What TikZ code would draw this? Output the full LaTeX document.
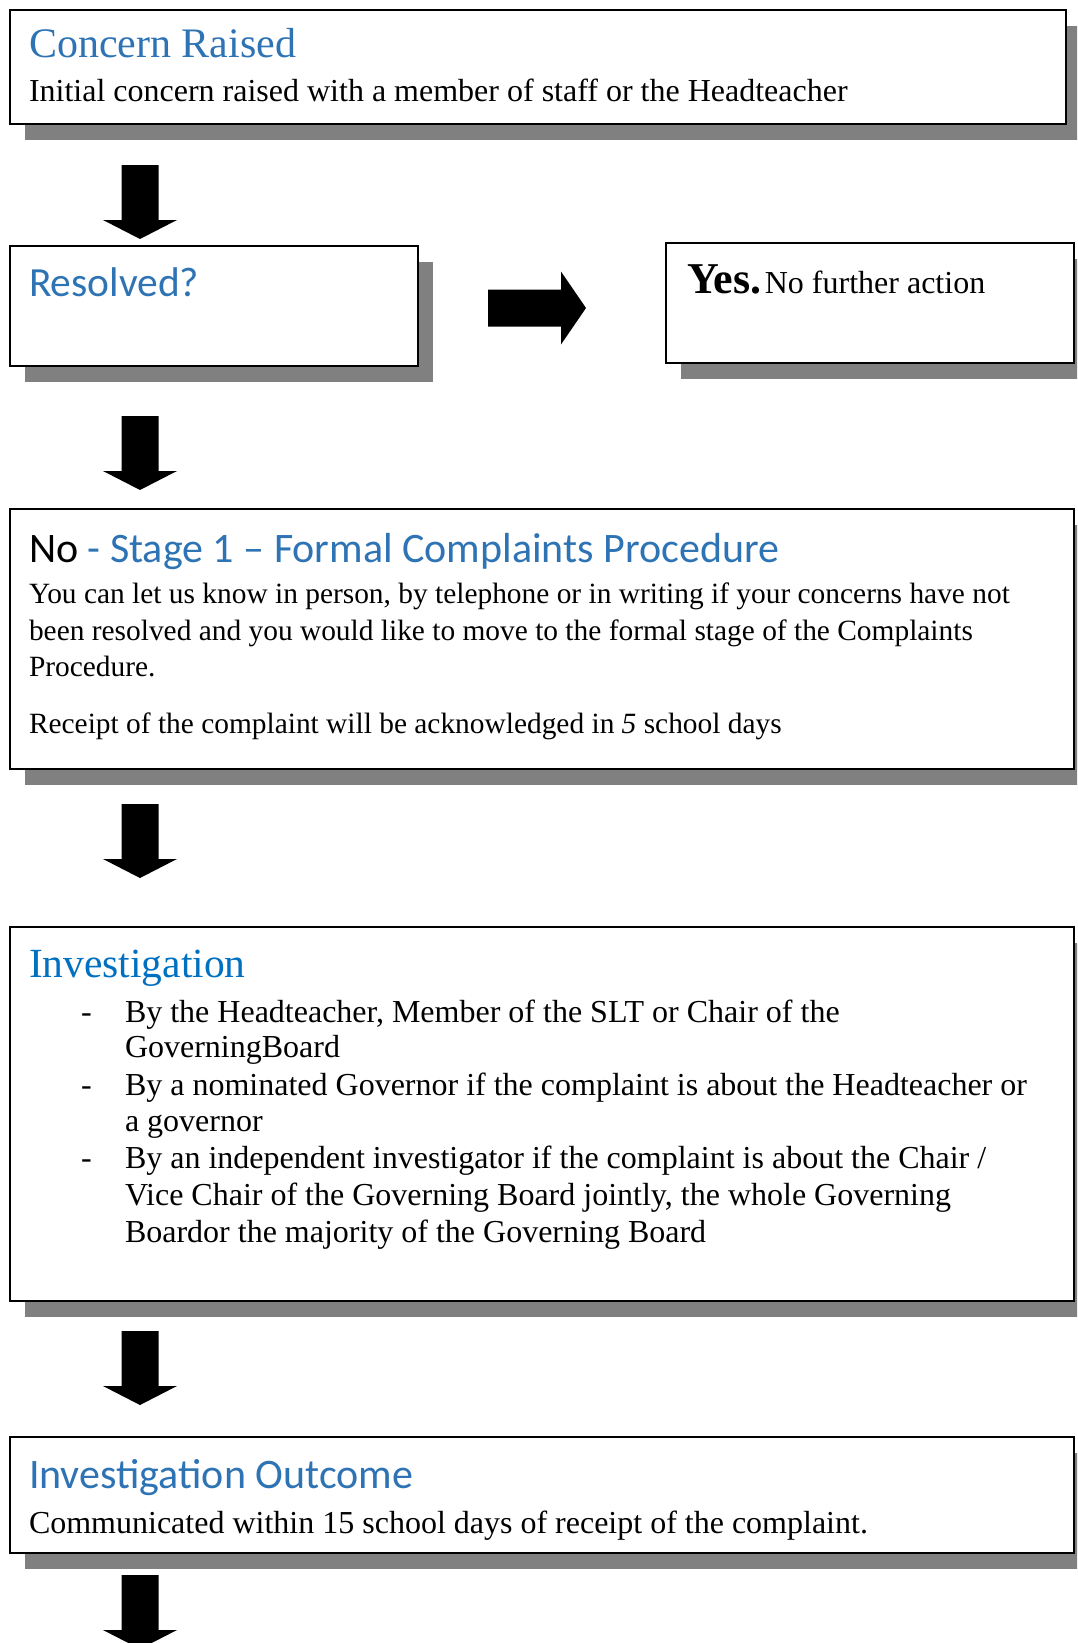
\documentclass[tikz,border=0pt]{standalone}
\usepackage{fontspec}
\setmainfont{Liberation Serif}
\newfontfamily\ttlsans{Carlito}
\usetikzlibrary{shadows,calc}
\definecolor{ttlblue}{HTML}{2E74B5}
\definecolor{invblue}{HTML}{0070C0}
\definecolor{shadowgray}{HTML}{808080}
\tikzset{
 flowbox/.style={draw=black, line width=2pt, fill=white, anchor=north west, inner sep=0pt,
   drop shadow={shadow xshift=15pt, shadow yshift=-16pt, fill=shadowgray, opacity=1}},
 txt/.style={anchor=base west, inner sep=0pt, outer sep=0pt},
 body/.style={txt, font=\fontsize{32}{37}\selectfont},
 smallbody/.style={txt, font=\fontsize{29.4}{36}\selectfont},
 serifttl/.style={txt, font=\fontsize{42}{48}\selectfont, text=ttlblue},
 sansttl/.style={txt, font=\ttlsans\fontsize{42}{48}\selectfont, text=ttlblue},
 downarr/.pic={\fill[black] (-18.5,-74) -- (18.5,-74) -- (18.5,-19) -- (37,-19) -- (0,0) -- (-37,-19) -- (-18.5,-19) -- cycle;},
 rightarr/.pic={\fill[black] (-98,-18.5) -- (-25,-18.5) -- (-25,-36.5) -- (0,0) -- (-25,36.5) -- (-25,18.5) -- (-98,18.5) -- cycle;}
}
\begin{document}
\begin{tikzpicture}[x=1pt,y=-1pt]
\useasboundingbox (0,0) rectangle (1077,1643);
\clip (0,0) rectangle (1077,1643);
% boxes
\node[flowbox, minimum width=1056pt, minimum height=114pt] (concern) at (9,9) {};
\node[flowbox, minimum width=408pt, minimum height=120pt] (resolved) at (9,245) {};
\node[flowbox, minimum width=408pt, minimum height=120pt] (yesbox) at (665,242) {};
\node[flowbox, minimum width=1064pt, minimum height=260pt] (stage1) at (9,508) {};
\node[flowbox, minimum width=1064pt, minimum height=374pt] (invest) at (9,926) {};
\node[flowbox, minimum width=1064pt, minimum height=116pt] (outcome) at (9,1436) {};
% block arrows
\pic (arrA) at (140,239) {downarr};
\pic (arrB) at (140,490) {downarr};
\pic (arrC) at (140,878) {downarr};
\pic (arrD) at (140,1405) {downarr};
\pic (arrE) at (140,1649) {downarr};
\pic (arrR) at (586,308) {rightarr};
% texts
\node[serifttl] (t1) at (29,58) {Concern Raised};
\node[body] (b1) at (29,102) {Initial concern raised with a member of staff or the Headteacher};
\node[sansttl, font=\ttlsans\fontsize{41.5}{48}\selectfont] (t2) at (29,296) {Resolved?};
\node[txt] (t3) at (687,293) {{\fontsize{44}{48}\selectfont\bfseries Yes.} {\fontsize{32}{37}\selectfont No further action}};
\node[txt, font=\ttlsans\fontsize{42}{48}\selectfont] (t4) at (29,562) {No \textcolor{ttlblue}{- Stage 1 – Formal Complaints Procedure}};
\node[smallbody] (b4a) at (29,603) {You can let us know in person, by telephone or in writing if your concerns have not};
\node[smallbody] (b4b) at (29,640) {been resolved and you would like to move to the formal stage of the Complaints};
\node[smallbody] (b4c) at (29,676) {Procedure.};
\node[smallbody] (b4d) at (29,733) {Receipt of the complaint will be acknowledged in \textit{5} school days};
\node[serifttl, text=invblue, font=\fontsize{41.5}{48}\selectfont] (t5) at (29,977) {Investigation};
\node[body] (d1) at (81,1022) {-};
\node[body] (d2) at (81,1095) {-};
\node[body] (d3) at (81,1168) {-};
\node[body] (b5a) at (125,1022) {By the Headteacher, Member of the SLT or Chair of the};
\node[body] (b5b) at (125,1057) {GoverningBoard};
\node[body] (b5c) at (125,1095) {By a nominated Governor if the complaint is about the Headteacher or};
\node[body] (b5d) at (125,1131) {a governor};
\node[body] (b5e) at (125,1168) {By an independent investigator if the complaint is about the Chair /};
\node[body] (b5f) at (125,1205) {Vice Chair of the Governing Board jointly, the whole Governing};
\node[body] (b5g) at (125,1242) {Boardor the majority of the Governing Board};
\node[sansttl] (t6) at (29,1488) {Investigation Outcome};
\node[body] (b6) at (29,1533) {Communicated within 15 school days of receipt of the complaint.};
\end{tikzpicture}
\end{document}
